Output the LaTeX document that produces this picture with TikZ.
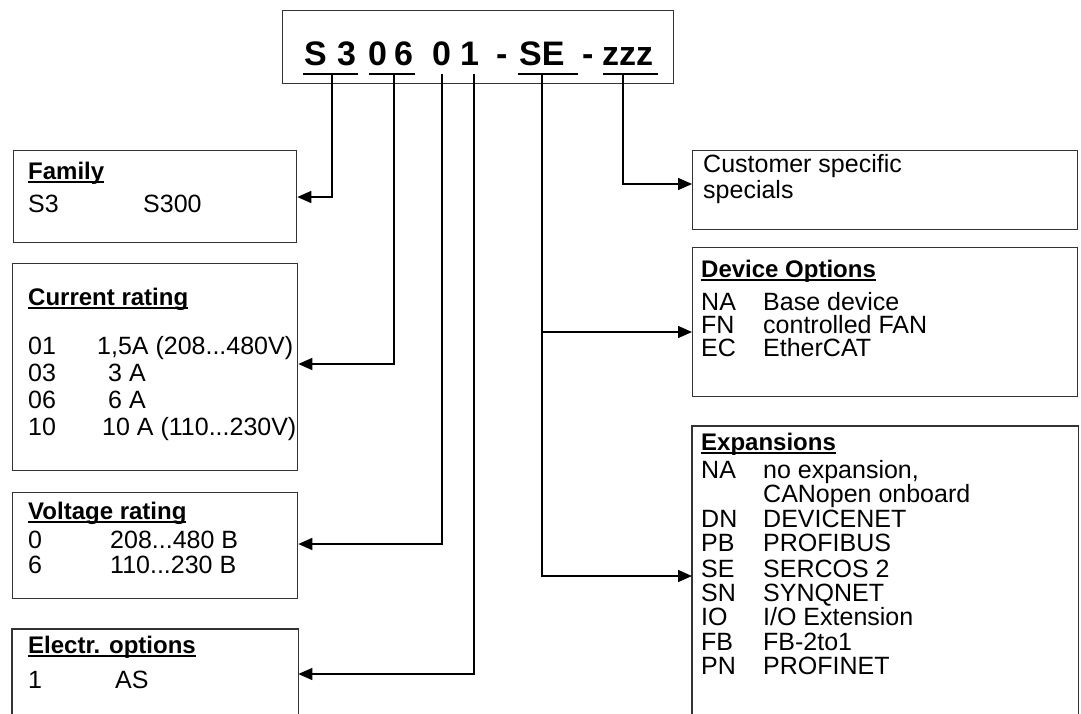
\documentclass[tikz,border=0pt]{standalone}
\usepackage{fontspec}
\setmainfont{Liberation Sans}
\usetikzlibrary{arrows.meta,calc}
\newlength\hdw
\newcommand\hdul[1]{\settowidth\hdw{\bfseries #1}\rlap{\rule[-3.5pt]{\hdw}{1.4pt}}\textbf{#1}}
\begin{document}
\begin{tikzpicture}[x=1pt,y=-1pt,
  box/.style={draw=black!80, line width=1.3pt, inner sep=0pt, anchor=north west},
  hollow/.style={inner sep=0pt, outer sep=0.65pt, anchor=north west},
  edge/.style={draw=black!80, line width=1.3pt},
  txt/.style={anchor=base west, inner sep=0pt, font=\fontsize{25}{29}\selectfont},
  hd/.style={anchor=base west, inner sep=0pt, font=\fontsize{24}{28}\selectfont},
  code/.style={anchor=base west, inner sep=0pt, font=\fontsize{34}{40}\selectfont\bfseries},
  conn/.style={line width=1.5pt, -{Triangle[length=14pt,width=12pt]}},
  uline/.style={line width=2pt}]
\useasboundingbox (0,0) rectangle (1081,713);

% top code box
\node[box, minimum width=391pt, minimum height=73pt] (top) at (282,10) {};
\node[code] (cS)  at (304,65) {S};
\node[code] (c3)  at (337,65) {3};
\node[code] (c0a) at (368,65) {0};
\node[code] (c6)  at (394,65) {6};
\node[code] (c0b) at (432,65) {0};
\node[code] (c1)  at (460,65) {1};
\node[code] (cd1) at (496,65) {-};
\node[code] (cSE) at (519,65) {SE};
\node[code] (cd2) at (582,65) {-};
\node[code] (cz)  at (602,65) {zzz};
\draw[uline] (303,74) -- (358,74);
\draw[uline] (369,74) -- (415,74);
\draw[uline] (518,74) -- (578,74);
\draw[uline] (603,74) -- (658,74);
\coordinate (k1) at (332,74);
\coordinate (k2) at (394,74);
\coordinate (k3) at (442,74);
\coordinate (k4) at (474,74);
\coordinate (k5) at (542,74);
\coordinate (k6) at (623,74);

% left boxes
\node[box, minimum width=283pt, minimum height=92pt] (fam) at (13,150) {};
\node[hd] (famh) at (28,179) {\hdul{Family}};
\node[txt] (fam1a) at (28,212) {S3};
\node[txt] (fam1b) at (143,212) {S300};

\node[box, minimum width=285pt, minimum height=207pt] (cur) at (12,263) {};
\node[hd] (curh) at (28,305) {\hdul{Current rating}};
\node[txt] (cur1a) at (28,354) {01};
\node[txt] (cur1b) at (97,354) {1,5A (208...480V)};
\node[txt] (cur2a) at (28,381) {03};
\node[txt] (cur2b) at (108,381) {3 A};
\node[txt] (cur3a) at (28,408) {06};
\node[txt] (cur3b) at (108,408) {6 A};
\node[txt] (cur4a) at (28,435) {10};
\node[txt] (cur4b) at (102,435) {10 A (110...230V)};

\node[box, minimum width=285pt, minimum height=106pt] (vol) at (12,492) {};
\node[hd] (volh) at (28,519) {\hdul{Voltage rating}};
\node[txt] (vol1a) at (28,548) {0};
\node[txt] (vol1b) at (110,548) {208...480 B};
\node[txt] (vol2a) at (28,573) {6};
\node[txt] (vol2b) at (110,573) {110...230 B};

\node[hollow, minimum width=285pt, minimum height=85pt] (ele) at (12,629) {};
\draw[edge] (ele.south west) -- (ele.north west) -- (ele.north east) -- (ele.south east);
\node[hd] (eleh) at (28,653) {\hdul{Electr. options}};
\node[txt] (ele1a) at (28,688) {1};
\node[txt] (ele1b) at (115,688) {AS};

% right boxes
\node[box, minimum width=385pt, minimum height=79pt] (cus) at (692,150) {};
\node[txt] (cus1) at (703,172) {Customer specific};
\node[txt] (cus2) at (703,198) {specials};

\node[box, minimum width=385pt, minimum height=149pt] (dev) at (692,247) {};
\node[hd] (devh) at (701,277) {\hdul{Device Options}};
\node[txt] (dev1a) at (701,310) {NA};
\node[txt] (dev1b) at (763,310) {Base device};
\node[txt] (dev2a) at (701,333) {FN};
\node[txt] (dev2b) at (763,333) {controlled FAN};
\node[txt] (dev3a) at (701,356) {EC};
\node[txt] (dev3b) at (763,356) {EtherCAT};

\node[hollow, minimum width=385pt, minimum height=288pt] (exp) at (692,426) {};
\draw[edge] (exp.south west) -- (exp.north west) -- (exp.north east) -- (exp.south east);
\node[hd] (exph) at (701,450) {\hdul{Expansions}};
\node[txt] (e1a) at (701,478) {NA};
\node[txt] (e1b) at (763,478) {no expansion,};
\node[txt] (e1c) at (763,502) {CANopen onboard};
\node[txt] (e2a) at (701,527) {DN};
\node[txt] (e2b) at (763,527) {DEVICENET};
\node[txt] (e3a) at (701,551) {PB};
\node[txt] (e3b) at (763,551) {PROFIBUS};
\node[txt] (e4a) at (701,577) {SE};
\node[txt] (e4b) at (763,577) {SERCOS 2};
\node[txt] (e5a) at (701,601) {SN};
\node[txt] (e5b) at (763,601) {SYNQNET};
\node[txt] (e6a) at (701,625) {IO};
\node[txt] (e6b) at (763,625) {I/O Extension};
\node[txt] (e7a) at (701,650) {FB};
\node[txt] (e7b) at (763,650) {FB-2to1};
\node[txt] (e8a) at (701,674) {PN};
\node[txt] (e8b) at (763,674) {PROFINET};

% connectors
\draw[conn] (k1) |- ($(fam.north east)+(0,47)$);
\draw[conn] (k2) |- ($(cur.north east)+(0,101)$);
\draw[conn] (k3) |- ($(vol.north east)+(0,52)$);
\draw[conn] (k4) |- ($(ele.north east)+(0,45)$);
\draw[conn] (k6) |- ($(cus.north west)+(0,34)$);
\draw[conn] (k5) |- ($(exp.north west)+(0,150)$);
\draw[conn] ($(k5)+(0,258)$) -- ($(dev.north west)+(0,85)$);
\end{tikzpicture}
\end{document}
